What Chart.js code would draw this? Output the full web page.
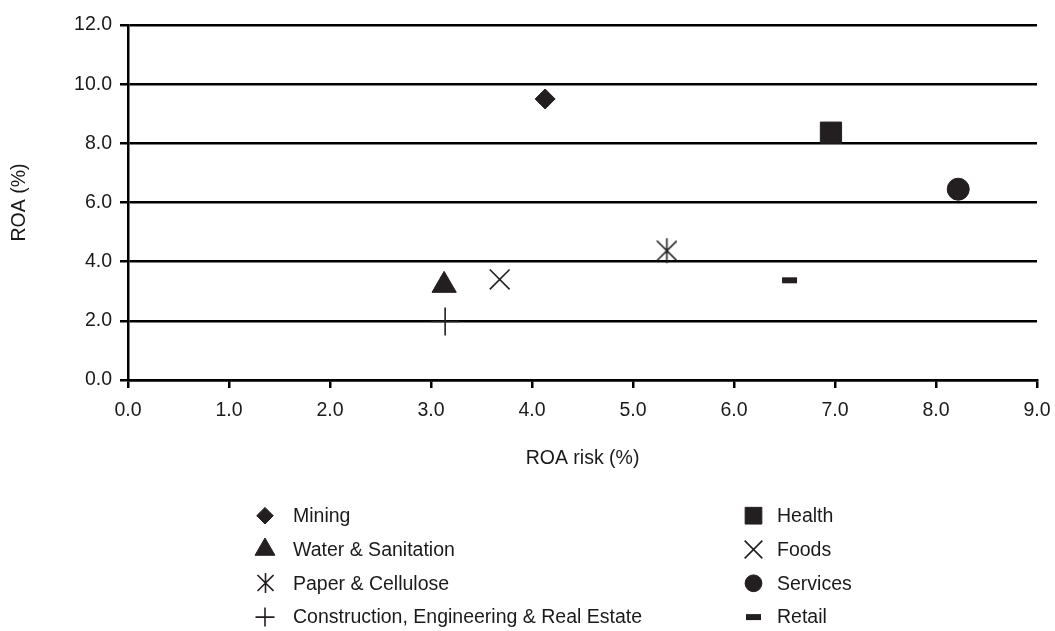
<!DOCTYPE html>
<html><head><meta charset="utf-8">
<script src="https://cdn.jsdelivr.net/npm/chart.js@4/dist/chart.umd.min.js"></script>
<style>html,body{margin:0;padding:0;background:#fff;}#wrap{position:relative;width:1055px;height:631px;}</style>
</head><body><div id="wrap"><canvas id="c" width="1055" height="631"></canvas></div>
<script>
// ---- data ----
const seriesNames = ['Mining','Water & Sanitation','Paper & Cellulose','Construction, Engineering & Real Estate','Health','Foods','Services','Retail'];
const roaRisk = [4.13, 3.13, 5.33, 3.14, 6.96, 3.68, 8.22, 6.55];
const roa     = [9.50, 3.20, 4.37, 1.98, 8.36, 3.40, 6.45, 3.37];
const xTickValues = [0,1,2,3,4,5,6,7,8,9];
const xTickLabels = ['0.0','1.0','2.0','3.0','4.0','5.0','6.0','7.0','8.0','9.0'];
const yTickValues = [0,2,4,6,8,10,12];
const yTickLabels = ['0.0','2.0','4.0','6.0','8.0','10.0','12.0'];
const xTitle = 'ROA risk (%)';
const yTitle = 'ROA (%)';

// ---- styles ----
const INK = '#231f20';
const FONT = {family:"'Liberation Sans', Arial, sans-serif", size:19.5};

function makeAsterisk(scale){
  const w = Math.round(22*scale), h = Math.round(27*scale);
  const c = document.createElement('canvas'); c.width = w; c.height = h;
  const g = c.getContext('2d');
  g.strokeStyle = INK; g.lineWidth = 1.6;
  const cx = Math.floor(w/2) + 0.5, cy = h/2, a = 10*scale, v = 12.5*scale;
  g.beginPath();
  g.moveTo(cx, cy - v); g.lineTo(cx, cy + v);
  g.moveTo(cx - a, cy - a); g.lineTo(cx + a, cy + a);
  g.moveTo(cx + a, cy - a); g.lineTo(cx - a, cy + a);
  g.stroke();
  return c;
}
const asteriskBig = makeAsterisk(1);
const asteriskSmall = makeAsterisk(0.8);

const pointStyles = ['rectRot','triangle',asteriskBig,'cross','rect','crossRot','circle','line'];
const pointRadii  = [10, 14, 10, 14, 15, 14, 11, 7.5];
const borderWidths= [1, 1, 1.6, 1.6, 1, 1.6, 1, 6];
const legendRadii = [8.3, 11.5, 8, 9.5, 11.8, 12.5, 8.4, 7.5];
const legendStyles= ['rectRot','triangle',asteriskSmall,'cross','rect','crossRot','circle','line'];

const datasets = seriesNames.map((name,i)=>({
  label: name,
  data: [{x: roaRisk[i], y: roa[i]}],
  pointStyle: pointStyles[i],
  pointRadius: pointRadii[i],
  pointBorderWidth: borderWidths[i],
  backgroundColor: INK,
  borderColor: INK,
  pointBackgroundColor: INK,
  pointBorderColor: INK
}));

const sideLegend = {
  id: 'sideLegend',
  afterDraw(chart){
    const ctx = chart.ctx;
    ctx.save();
    ctx.font = FONT.size + 'px ' + FONT.family;
    ctx.textBaseline = 'middle';
    ctx.textAlign = 'left';
    chart.data.datasets.forEach((ds,i)=>{
      const col = i < 4 ? 0 : 1, row = i % 4;
      const mx = col ? 753.5 : 265;
      const tx = col ? 777 : 293;
      const y = 515.7 + row*33.8;
      const st = legendStyles[i];
      ctx.fillStyle = INK; ctx.strokeStyle = INK;
      if (st instanceof HTMLCanvasElement) {
        ctx.drawImage(st, Math.round(mx - st.width/2), Math.round(y - st.height/2));
      } else {
        ctx.lineWidth = borderWidths[i];
        Chart.helpers.drawPoint(ctx, {pointStyle: st, radius: legendRadii[i], borderWidth: borderWidths[i], rotation: 0}, mx, y);
      }
      ctx.fillStyle = '#1a1a1a';
      ctx.fillText(ds.label, tx, y + 1);
    });
    ctx.restore();
  }
};

new Chart(document.getElementById('c'), {
  type: 'scatter',
  data: {datasets},
  plugins: [sideLegend],
  options: {
    responsive: false,
    animation: false,
    events: [],
    layout: {padding: {top: 25, right: 18, bottom: 161, left: 0}},
    plugins: {legend: {display: false}, tooltip: {enabled: false}},
    scales: {
      x: {
        type: 'linear', position: 'bottom', min: 0, max: 9,
        afterBuildTicks: s => { s.ticks = xTickValues.map(v => ({value: v})); },
        afterFit: s => { s.height = 90; s.paddingRight = 0; s.paddingLeft = 0; },
        grid: {drawOnChartArea: false, drawTicks: true, tickLength: 8, color: '#000', lineWidth: 2.5},
        border: {display: true, color: '#000', width: 2.5},
        ticks: {padding: 11, color: '#1a1a1a', font: FONT, maxRotation: 0,
                callback: (v, idx) => xTickLabels[idx]},
        title: {display: true, text: xTitle, color: '#1a1a1a', font: FONT, padding: {top: 0, bottom: 0}}
      },
      y: {
        type: 'linear', position: 'left', min: 0, max: 12,
        afterBuildTicks: s => { s.ticks = yTickValues.map(v => ({value: v})); },
        afterFit: s => { s.width = 128; },
        grid: {drawTicks: true, tickLength: 8, color: '#000', lineWidth: 2.5},
        border: {display: true, color: '#000', width: 2.5},
        ticks: {padding: 8, color: '#1a1a1a', font: FONT, callback: (v, idx) => yTickLabels[idx]},
        title: {display: true, text: yTitle, color: '#1a1a1a', font: FONT, padding: {top: 8, bottom: 0}}
      }
    }
  }
});
</script></body></html>
